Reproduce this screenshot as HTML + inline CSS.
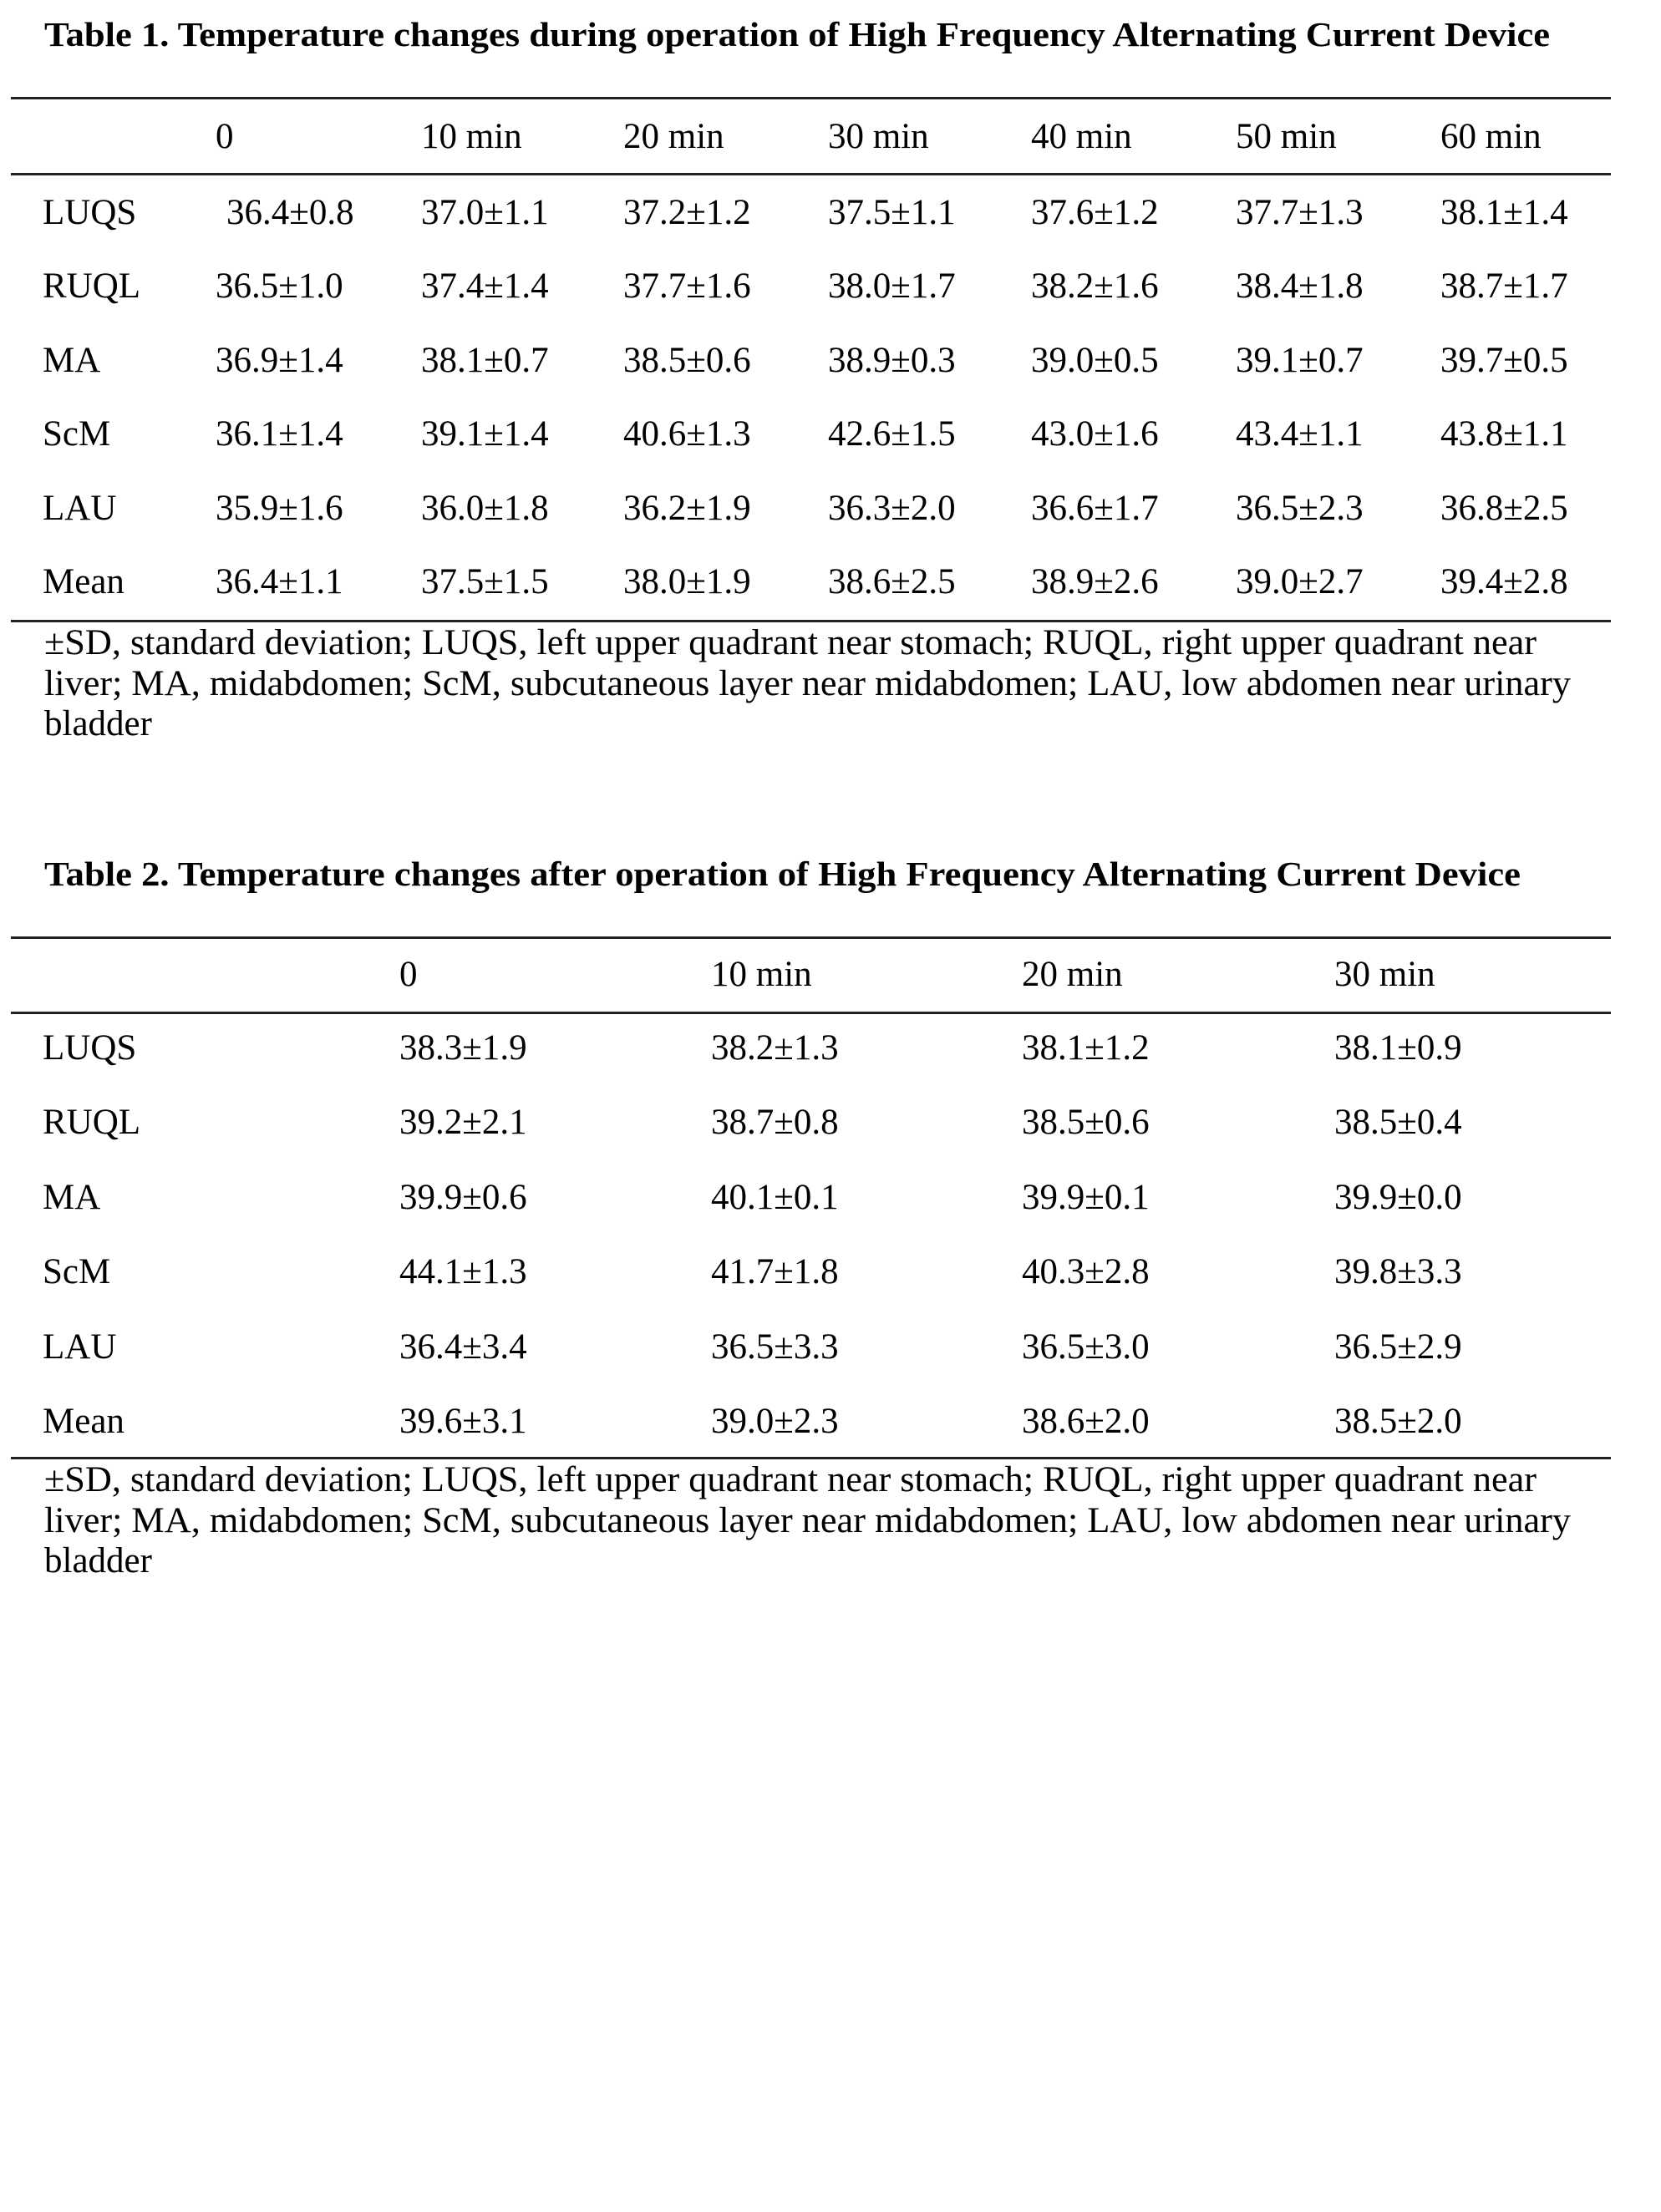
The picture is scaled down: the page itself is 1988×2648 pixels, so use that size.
<!DOCTYPE html>
<html><head><meta charset="utf-8"><style>
html,body{margin:0;padding:0;background:#fff;}
svg{display:block;}
text{font-family:"Liberation Serif","Times New Roman",serif;font-size:43px;fill:#000;}
.b{font-weight:bold;font-size:41px;}
</style></head><body>
<svg width="1988" height="2648" viewBox="0 0 1988 2648" xmlns="http://www.w3.org/2000/svg">
<rect width="1988" height="2648" fill="#fff"/>
<text class="b" x="53" y="55" textLength="1802" lengthAdjust="spacingAndGlyphs">Table 1. Temperature changes during operation of High Frequency Alternating Current Device</text>
<rect x="13" y="116" width="1915" height="3" fill="#222"/>
<rect x="13" y="207" width="1915" height="3" fill="#222"/>
<rect x="13" y="742" width="1915" height="3" fill="#222"/>
<g>
<text x="258" y="177">0</text><text x="504" y="177">10 min</text><text x="746" y="177">20 min</text><text x="991" y="177">30 min</text><text x="1234" y="177">40 min</text><text x="1479" y="177">50 min</text><text x="1724" y="177">60 min</text>
</g>
<g>
<text x="51" y="268">LUQS</text><text x="271" y="268">36.4±0.8</text><text x="504" y="268">37.0±1.1</text><text x="746" y="268">37.2±1.2</text><text x="991" y="268">37.5±1.1</text><text x="1234" y="268">37.6±1.2</text><text x="1479" y="268">37.7±1.3</text><text x="1724" y="268">38.1±1.4</text>
<text x="51" y="356">RUQL</text><text x="258" y="356">36.5±1.0</text><text x="504" y="356">37.4±1.4</text><text x="746" y="356">37.7±1.6</text><text x="991" y="356">38.0±1.7</text><text x="1234" y="356">38.2±1.6</text><text x="1479" y="356">38.4±1.8</text><text x="1724" y="356">38.7±1.7</text>
<text x="51" y="445">MA</text><text x="258" y="445">36.9±1.4</text><text x="504" y="445">38.1±0.7</text><text x="746" y="445">38.5±0.6</text><text x="991" y="445">38.9±0.3</text><text x="1234" y="445">39.0±0.5</text><text x="1479" y="445">39.1±0.7</text><text x="1724" y="445">39.7±0.5</text>
<text x="51" y="533">ScM</text><text x="258" y="533">36.1±1.4</text><text x="504" y="533">39.1±1.4</text><text x="746" y="533">40.6±1.3</text><text x="991" y="533">42.6±1.5</text><text x="1234" y="533">43.0±1.6</text><text x="1479" y="533">43.4±1.1</text><text x="1724" y="533">43.8±1.1</text>
<text x="51" y="622">LAU</text><text x="258" y="622">35.9±1.6</text><text x="504" y="622">36.0±1.8</text><text x="746" y="622">36.2±1.9</text><text x="991" y="622">36.3±2.0</text><text x="1234" y="622">36.6±1.7</text><text x="1479" y="622">36.5±2.3</text><text x="1724" y="622">36.8±2.5</text>
<text x="51" y="710">Mean</text><text x="258" y="710">36.4±1.1</text><text x="504" y="710">37.5±1.5</text><text x="746" y="710">38.0±1.9</text><text x="991" y="710">38.6±2.5</text><text x="1234" y="710">38.9±2.6</text><text x="1479" y="710">39.0±2.7</text><text x="1724" y="710">39.4±2.8</text>
</g>
<text x="53" y="783" textLength="1786" lengthAdjust="spacingAndGlyphs">±SD, standard deviation; LUQS, left upper quadrant near stomach; RUQL, right upper quadrant near</text>
<text x="53" y="832" textLength="1827" lengthAdjust="spacingAndGlyphs">liver; MA, midabdomen; ScM, subcutaneous layer near midabdomen; LAU, low abdomen near urinary</text>
<text x="53" y="880">bladder</text>

<text class="b" x="53" y="1060" textLength="1767" lengthAdjust="spacingAndGlyphs">Table 2. Temperature changes after operation of High Frequency Alternating Current Device</text>
<rect x="13" y="1121" width="1915" height="3" fill="#222"/>
<rect x="13" y="1211" width="1915" height="3" fill="#222"/>
<rect x="13" y="1744" width="1915" height="3" fill="#222"/>
<text x="478" y="1180">0</text><text x="851" y="1180">10 min</text><text x="1223" y="1180">20 min</text><text x="1597" y="1180">30 min</text>
<g>
<text x="51" y="1268">LUQS</text><text x="478" y="1268">38.3±1.9</text><text x="851" y="1268">38.2±1.3</text><text x="1223" y="1268">38.1±1.2</text><text x="1597" y="1268">38.1±0.9</text>
<text x="51" y="1357">RUQL</text><text x="478" y="1357">39.2±2.1</text><text x="851" y="1357">38.7±0.8</text><text x="1223" y="1357">38.5±0.6</text><text x="1597" y="1357">38.5±0.4</text>
<text x="51" y="1447">MA</text><text x="478" y="1447">39.9±0.6</text><text x="851" y="1447">40.1±0.1</text><text x="1223" y="1447">39.9±0.1</text><text x="1597" y="1447">39.9±0.0</text>
<text x="51" y="1536">ScM</text><text x="478" y="1536">44.1±1.3</text><text x="851" y="1536">41.7±1.8</text><text x="1223" y="1536">40.3±2.8</text><text x="1597" y="1536">39.8±3.3</text>
<text x="51" y="1626">LAU</text><text x="478" y="1626">36.4±3.4</text><text x="851" y="1626">36.5±3.3</text><text x="1223" y="1626">36.5±3.0</text><text x="1597" y="1626">36.5±2.9</text>
<text x="51" y="1715">Mean</text><text x="478" y="1715">39.6±3.1</text><text x="851" y="1715">39.0±2.3</text><text x="1223" y="1715">38.6±2.0</text><text x="1597" y="1715">38.5±2.0</text>
</g>
<text x="53" y="1785" textLength="1786" lengthAdjust="spacingAndGlyphs">±SD, standard deviation; LUQS, left upper quadrant near stomach; RUQL, right upper quadrant near</text>
<text x="53" y="1834" textLength="1827" lengthAdjust="spacingAndGlyphs">liver; MA, midabdomen; ScM, subcutaneous layer near midabdomen; LAU, low abdomen near urinary</text>
<text x="53" y="1882">bladder</text>
</svg>
</body></html>
